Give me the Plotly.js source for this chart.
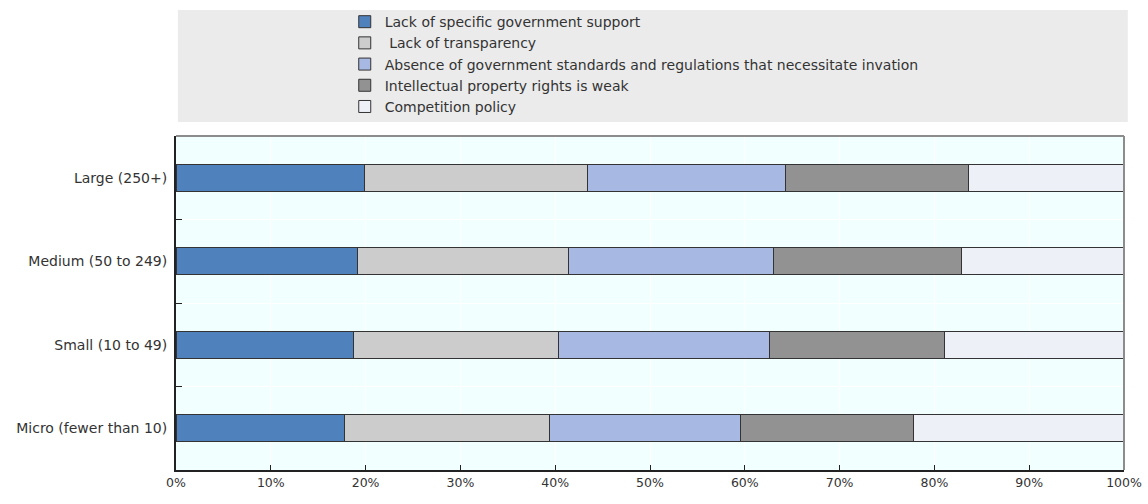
<!DOCTYPE html>
<html>
<head>
<meta charset="utf-8">
<script src="https://cdn.plot.ly/plotly-3.0.1.min.js"></script>
<style>html,body{margin:0;padding:0;background:#fff;}#chart{width:1148px;height:504px;}</style>
</head>
<body>
<div id="chart"></div>
<script>
const categories = ["Large (250+)", "Medium (50 to 249)", "Small (10 to 49)", "Micro (fewer than 10)"];
const seriesNames = [
  "Lack of specific government support",
  " Lack of transparency",
  "Absence of government standards and regulations that necessitate invation",
  "Intellectual property rights is weak",
  "Competition policy"
];
const govSupport   = [19.9, 19.1, 18.7, 17.8];
const transparency = [23.5, 22.3, 21.7, 21.6];
const standards    = [20.9, 21.6, 22.2, 20.1];
const ipRights     = [19.3, 19.9, 18.5, 18.3];
const competition  = [16.4, 17.1, 18.9, 22.2];
const tickVals = [0, 10, 20, 30, 40, 50, 60, 70, 80, 90, 100];
const tickText = ["0%", "10%", "20%", "30%", "40%", "50%", "60%", "70%", "80%", "90%", "100%"];

const colors = ["#4f81bd", "#cccccc", "#a7b9e3", "#929292", "#eef0f8"];
const seriesValues = [govSupport, transparency, standards, ipRights, competition];

const traces = seriesValues.map((vals, i) => ({
  type: "bar",
  orientation: "h",
  name: seriesNames[i],
  legendgroup: "g" + i,
  y: categories,
  x: vals,
  marker: { color: colors[i], line: { color: "#333333", width: 1 } },
  hoverinfo: "x+name"
}));

const FONT = "DejaVu Sans, Liberation Sans, Arial, sans-serif";
const layout = {
  width: 1148,
  height: 504,
  margin: { l: 176, r: 24, t: 136, b: 34, autoexpand: false },
  paper_bgcolor: "#ffffff",
  plot_bgcolor: "#f2ffff",
  barmode: "stack",
  bargap: 0.68,
  font: { family: FONT, size: 13, color: "#333333" },
  showlegend: true,
  legend: {
    x: 0.178, xanchor: "left",
    y: 1.389, yanchor: "top",
    bgcolor: "rgba(0,0,0,0)",
    borderwidth: 0,
    traceorder: "normal",
    tracegroupgap: 4,
    font: { family: FONT, size: 14, color: "#333333" }
  },
  xaxis: {
    range: [0, 100],
    tickmode: "array",
    tickvals: tickVals,
    ticktext: tickText,
    ticks: "inside",
    ticklen: 5,
    tickcolor: "#222222",
    showgrid: true,
    gridcolor: "#ffffff",
    gridwidth: 1,
    zeroline: false,
    showline: true,
    linecolor: "#222222",
    linewidth: 2,
    fixedrange: true,
    tickfont: { family: FONT, size: 12.5, color: "#333333" }
  },
  yaxis: {
    type: "category",
    autorange: "reversed",
    ticks: "inside",
    tickson: "boundaries",
    ticklen: 6,
    tickcolor: "#222222",
    showgrid: true,
    gridcolor: "#ffffff",
    gridwidth: 1,
    zeroline: false,
    showline: true,
    linecolor: "#222222",
    linewidth: 2,
    fixedrange: true,
    ticklabelstandoff: 4,
    tickfont: { family: FONT, size: 14, color: "#333333" }
  },
  shapes: [
    {
      type: "rect", xref: "paper", yref: "paper",
      x0: 0.002, x1: 1.004, y0: 1.042, y1: 1.377,
      fillcolor: "#ebebeb", line: { width: 0 }, layer: "below"
    },
    {
      type: "line", xref: "paper", yref: "paper",
      x0: 0, x1: 1, y0: 1, y1: 1,
      line: { color: "#8c8c8c", width: 2 }, layer: "above"
    },
    {
      type: "line", xref: "paper", yref: "paper",
      x0: 1, x1: 1, y0: 0, y1: 1,
      line: { color: "#8c8c8c", width: 2 }, layer: "above"
    }
  ]
};

Plotly.newPlot("chart", traces, layout, { displayModeBar: false });
</script>
</body>
</html>
